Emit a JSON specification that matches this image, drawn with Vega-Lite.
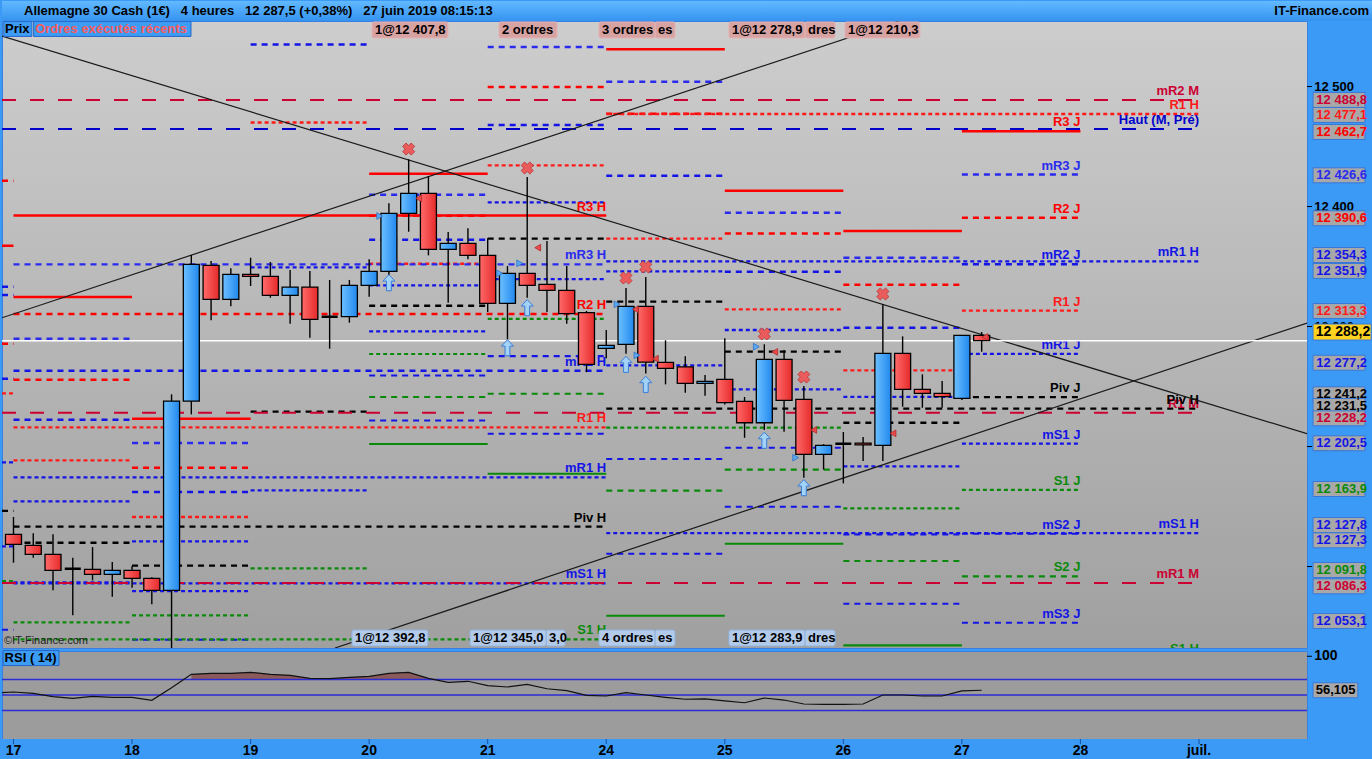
{
"$schema": "https://vega.github.io/schema/vega-lite/v6.json",
"autosize": {"type": "pad"},
"padding": {"left": 0, "top": 0, "right": 0, "bottom": 0},
"background": "#3a9af5",
"spacing": 3,
"bounds": "flush",
"resolve": {"scale": {"x": "independent", "y": "independent"}},
"datasets": {
"candles": [
{"t":0,"o":12126.8,"h":12141.3,"l":12103.2,"c":12118.5},
{"t":0.1667,"o":12117.7,"h":12127.7,"l":12107.3,"c":12110.2},
{"t":0.3333,"o":12110.2,"h":12126.8,"l":12080.2,"c":12096.8},
{"t":0.5,"o":12098.2,"h":12107.3,"l":12059.3,"c":12098.2},
{"t":0.6667,"o":12097.7,"h":12116.2,"l":12088.5,"c":12093.5},
{"t":0.8333,"o":12093.5,"h":12103.8,"l":12074.8,"c":12096.8},
{"t":1,"o":12096.8,"h":12100.4,"l":12082.3,"c":12090.2},
{"t":1.1667,"o":12090.2,"h":12091,"l":12068.5,"c":12080.2},
{"t":1.3333,"o":12080.2,"h":12243.5,"l":12032.1,"c":12237.9},
{"t":1.5,"o":12237.9,"h":12359.6,"l":12226.8,"c":12351.8},
{"t":1.6667,"o":12351,"h":12354.6,"l":12305.2,"c":12322.7},
{"t":1.8333,"o":12322.7,"h":12348.5,"l":12316.8,"c":12343.5},
{"t":2,"o":12343.5,"h":12357.3,"l":12333.8,"c":12341.8},
{"t":2.1667,"o":12341.8,"h":12353.8,"l":12324,"c":12326},
{"t":2.3333,"o":12326,"h":12347.1,"l":12302.3,"c":12332.9},
{"t":2.5,"o":12332.9,"h":12346.3,"l":12290.7,"c":12306},
{"t":2.6667,"o":12308.2,"h":12338.8,"l":12281.5,"c":12308.2},
{"t":2.8333,"o":12308.2,"h":12338.8,"l":12303.2,"c":12334.3},
{"t":3,"o":12334.3,"h":12356,"l":12324.8,"c":12346},
{"t":3.1667,"o":12346,"h":12402.7,"l":12343,"c":12394.3},
{"t":3.3333,"o":12394.3,"h":12439.3,"l":12379,"c":12411},
{"t":3.5,"o":12411,"h":12425.4,"l":12359.3,"c":12364.3},
{"t":3.6667,"o":12364.3,"h":12378.8,"l":12319.8,"c":12369.3},
{"t":3.8333,"o":12369.3,"h":12381.8,"l":12356,"c":12359.3},
{"t":4,"o":12359.3,"h":12373.5,"l":12312.1,"c":12319.3},
{"t":4.1667,"o":12319.3,"h":12350.4,"l":12289.3,"c":12344.3},
{"t":4.3333,"o":12344.3,"h":12424.6,"l":12324,"c":12334.3},
{"t":4.5,"o":12335.2,"h":12371.3,"l":12312.1,"c":12330.2},
{"t":4.6667,"o":12330.2,"h":12350.4,"l":12302.3,"c":12310.7},
{"t":4.8333,"o":12311.5,"h":12313,"l":12262,"c":12268.5},
{"t":5,"o":12281.8,"h":12297.1,"l":12273.5,"c":12284.3},
{"t":5.1667,"o":12285.2,"h":12332.1,"l":12277.3,"c":12316.8},
{"t":5.3333,"o":12316.8,"h":12341.3,"l":12260.8,"c":12270.4},
{"t":5.5,"o":12270.2,"h":12288.5,"l":12251.8,"c":12265.2},
{"t":5.6667,"o":12266.3,"h":12275.2,"l":12244.8,"c":12252.7},
{"t":5.8333,"o":12252.7,"h":12259.6,"l":12242.3,"c":12254.3},
{"t":6,"o":12256,"h":12290.2,"l":12235,"c":12236.5},
{"t":6.1667,"o":12237.7,"h":12241.3,"l":12207.3,"c":12219.8},
{"t":6.3333,"o":12219.8,"h":12285.2,"l":12213.8,"c":12272.7},
{"t":6.5,"o":12272.7,"h":12280.4,"l":12212.3,"c":12238.5},
{"t":6.6667,"o":12239.3,"h":12250.4,"l":12174,"c":12193.5},
{"t":6.8333,"o":12193.5,"h":12202,"l":12180.7,"c":12201},
{"t":7,"o":12202.3,"h":12212.1,"l":12169.3,"c":12202.3},
{"t":7.1667,"o":12202.9,"h":12207.9,"l":12187.9,"c":12201.3},
{"t":7.3333,"o":12201,"h":12318.5,"l":12187.9,"c":12277.7},
{"t":7.5,"o":12277.7,"h":12291.8,"l":12233.2,"c":12247.7},
{"t":7.6667,"o":12247.7,"h":12260.2,"l":12232.3,"c":12244.3},
{"t":7.8333,"o":12244.3,"h":12254.6,"l":12232.3,"c":12241.5},
{"t":8,"o":12240.2,"h":12293,"l":12238.8,"c":12292.7},
{"t":8.1667,"o":12292.7,"h":12295.4,"l":12279,"c":12288.2}
],
"levels": [
{"t0":-0.097,"t1":0,"v":12421.5,"kind":"R2"},
{"t0":-0.097,"t1":0,"v":12367.3,"kind":"R3"},
{"t0":-0.097,"t1":0,"v":12333.2,"kind":"mR2"},
{"t0":-0.097,"t1":0,"v":12326.3,"kind":"mR2"},
{"t0":-0.097,"t1":0,"v":12285.7,"kind":"R2"},
{"t0":-0.097,"t1":0,"v":12256.5,"kind":"mR2"},
{"t0":-0.097,"t1":0,"v":12244.3,"kind":"R1"},
{"t0":-0.097,"t1":0,"v":12186.8,"kind":"mR1"},
{"t0":-0.097,"t1":0,"v":12146.3,"kind":"Piv"},
{"t0":-0.097,"t1":0,"v":12116.8,"kind":"mR1"},
{"t0":-0.097,"t1":0,"v":12087.9,"kind":"S1"},
{"t0":-0.097,"t1":0,"v":12047.3,"kind":"mS3"},
{"t0":0,"t1":1,"v":12324.6,"kind":"R3"},
{"t0":0,"t1":1,"v":12289.8,"kind":"mR3"},
{"t0":0,"t1":1,"v":12255.7,"kind":"R2"},
{"t0":0,"t1":1,"v":12222.3,"kind":"mR2"},
{"t0":0,"t1":1,"v":12188.5,"kind":"R1"},
{"t0":0,"t1":1,"v":12154.3,"kind":"mR1"},
{"t0":0,"t1":1,"v":12119.8,"kind":"Piv"},
{"t0":0,"t1":1,"v":12086.7,"kind":"mS1"},
{"t0":0,"t1":1,"v":12053.5,"kind":"S1"},
{"t0":1,"t1":2,"v":12223.2,"kind":"R3"},
{"t0":1,"t1":2,"v":12202.9,"kind":"mR3"},
{"t0":1,"t1":2,"v":12182.3,"kind":"R2"},
{"t0":1,"t1":2,"v":12162.1,"kind":"mR2"},
{"t0":1,"t1":2,"v":12141.3,"kind":"R1"},
{"t0":1,"t1":2,"v":12121.0,"kind":"mR1"},
{"t0":1,"t1":2,"v":12100.7,"kind":"Piv"},
{"t0":1,"t1":2,"v":12079.6,"kind":"mS1"},
{"t0":1,"t1":2,"v":12059.3,"kind":"S1"},
{"t0":1,"t1":2,"v":12039.0,"kind":"mS2"},
{"t0":2,"t1":3,"v":12535.0,"kind":"mR2"},
{"t0":2,"t1":3,"v":12470.0,"kind":"R1"},
{"t0":2,"t1":3,"v":12349.3,"kind":"mR1"},
{"t0":2,"t1":3,"v":12229.0,"kind":"Piv"},
{"t0":2,"t1":3,"v":12163.5,"kind":"mS1"},
{"t0":2,"t1":3,"v":12098.5,"kind":"S1"},
{"t0":3,"t1":4,"v":12427.3,"kind":"R3"},
{"t0":3,"t1":4,"v":12409.8,"kind":"mR3"},
{"t0":3,"t1":4,"v":12392.3,"kind":"R2"},
{"t0":3,"t1":4,"v":12372.3,"kind":"mR2"},
{"t0":3,"t1":4,"v":12352.3,"kind":"R1"},
{"t0":3,"t1":4,"v":12334.3,"kind":"mR1"},
{"t0":3,"t1":4,"v":12317.3,"kind":"Piv"},
{"t0":3,"t1":4,"v":12296.0,"kind":"mS1"},
{"t0":3,"t1":4,"v":12277.1,"kind":"S1"},
{"t0":3,"t1":4,"v":12259.2,"kind":"mS2"},
{"t0":3,"t1":4,"v":12241.3,"kind":"S2"},
{"t0":3,"t1":4,"v":12221.7,"kind":"mS3"},
{"t0":3,"t1":4,"v":12202.1,"kind":"S3"},
{"t0":4,"t1":5,"v":12532.9,"kind":"mR3"},
{"t0":4,"t1":5,"v":12499.6,"kind":"R2"},
{"t0":4,"t1":5,"v":12467.9,"kind":"mR2"},
{"t0":4,"t1":5,"v":12434.3,"kind":"R1"},
{"t0":4,"t1":5,"v":12403.5,"kind":"mR1"},
{"t0":4,"t1":5,"v":12373.2,"kind":"Piv"},
{"t0":4,"t1":5,"v":12339.6,"kind":"mS1"},
{"t0":4,"t1":5,"v":12306.3,"kind":"S1"},
{"t0":4,"t1":5,"v":12275.4,"kind":"mS2"},
{"t0":4,"t1":5,"v":12244.0,"kind":"S2"},
{"t0":4,"t1":5,"v":12210.7,"kind":"mS3"},
{"t0":4,"t1":5,"v":12177.3,"kind":"S3"},
{"t0":5,"t1":6,"v":12531.0,"kind":"R3"},
{"t0":5,"t1":6,"v":12504.0,"kind":"mR3"},
{"t0":5,"t1":6,"v":12477.3,"kind":"R2"},
{"t0":5,"t1":6,"v":12425.7,"kind":"mR2"},
{"t0":5,"t1":6,"v":12373.2,"kind":"R1"},
{"t0":5,"t1":6,"v":12346.0,"kind":"mR1"},
{"t0":5,"t1":6,"v":12320.7,"kind":"Piv"},
{"t0":5,"t1":6,"v":12267.7,"kind":"mS1"},
{"t0":5,"t1":6,"v":12215.7,"kind":"S1"},
{"t0":5,"t1":6,"v":12189.6,"kind":"mS2"},
{"t0":5,"t1":6,"v":12163.2,"kind":"S2"},
{"t0":5,"t1":6,"v":12110.7,"kind":"mS3"},
{"t0":5,"t1":6,"v":12059.0,"kind":"S3"},
{"t0":6,"t1":7,"v":12413.2,"kind":"R3"},
{"t0":6,"t1":7,"v":12394.8,"kind":"mR3"},
{"t0":6,"t1":7,"v":12377.5,"kind":"R2"},
{"t0":6,"t1":7,"v":12345.7,"kind":"mR2"},
{"t0":6,"t1":7,"v":12314.3,"kind":"R1"},
{"t0":6,"t1":7,"v":12297.1,"kind":"mR1"},
{"t0":6,"t1":7,"v":12279.0,"kind":"Piv"},
{"t0":6,"t1":7,"v":12247.7,"kind":"mS1"},
{"t0":6,"t1":7,"v":12215.7,"kind":"S1"},
{"t0":6,"t1":7,"v":12199.0,"kind":"mS2"},
{"t0":6,"t1":7,"v":12180.7,"kind":"S2"},
{"t0":6,"t1":7,"v":12149.8,"kind":"mS3"},
{"t0":6,"t1":7,"v":12119.0,"kind":"S3"},
{"t0":7,"t1":8,"v":12379.6,"kind":"R3"},
{"t0":7,"t1":8,"v":12357.3,"kind":"mR3"},
{"t0":7,"t1":8,"v":12334.8,"kind":"R2"},
{"t0":7,"t1":8,"v":12299.0,"kind":"mR2"},
{"t0":7,"t1":8,"v":12263.5,"kind":"R1"},
{"t0":7,"t1":8,"v":12241.3,"kind":"mR1"},
{"t0":7,"t1":8,"v":12219.8,"kind":"Piv"},
{"t0":7,"t1":8,"v":12183.5,"kind":"mS1"},
{"t0":7,"t1":8,"v":12148.5,"kind":"S1"},
{"t0":7,"t1":8,"v":12126.8,"kind":"mS2"},
{"t0":7,"t1":8,"v":12104.6,"kind":"S2"},
{"t0":7,"t1":8,"v":12069.0,"kind":"mS3"},
{"t0":7,"t1":8,"v":12034.3,"kind":"S3"},
{"t0":0,"t1":5,"v":12392.5,"kind":"R3","lab":"R3 H"},
{"t0":0,"t1":5,"v":12351.8,"kind":"mR3","lab":"mR3 H"},
{"t0":0,"t1":5,"v":12310.4,"kind":"R2","lab":"R2 H"},
{"t0":0,"t1":5,"v":12263.2,"kind":"mR2","lab":"mR2 H"},
{"t0":0,"t1":5,"v":12216.0,"kind":"R1","lab":"R1 H"},
{"t0":0,"t1":5,"v":12174.3,"kind":"mR1","lab":"mR1 H"},
{"t0":0,"t1":5,"v":12133.2,"kind":"Piv","lab":"Piv H"},
{"t0":0,"t1":5,"v":12086.0,"kind":"mS1","lab":"mS1 H"},
{"t0":0,"t1":5,"v":12039.3,"kind":"S1","lab":"S1 H"},
{"t0":-0.097,"t1":10,"v":12488.8,"kind":"M","lab":"mR2 M"},
{"t0":-0.097,"t1":10,"v":12464.5,"kind":"HM","lab":"Haut (M, Pré)"},
{"t0":-0.097,"t1":10,"v":12228.2,"kind":"M","lab":"R1 M"},
{"t0":-0.097,"t1":10,"v":12086.3,"kind":"M","lab":"mR1 M"},
{"t0":5,"t1":10,"v":12477.1,"kind":"R1","lab":"R1 H"},
{"t0":5,"t1":10,"v":12354.3,"kind":"mR1","lab":"mR1 H"},
{"t0":5,"t1":10,"v":12231.5,"kind":"Piv","lab":"Piv H"},
{"t0":5,"t1":10,"v":12127.8,"kind":"mS1","lab":"mS1 H"},
{"t0":5,"t1":10,"v":12024.1,"kind":"S1","lab":"S1 H"},
{"t0":8,"t1":9,"v":12462.7,"kind":"R3","lab":"R3 J"},
{"t0":8,"t1":9,"v":12426.6,"kind":"mR3","lab":"mR3 J"},
{"t0":8,"t1":9,"v":12390.6,"kind":"R2","lab":"R2 J"},
{"t0":8,"t1":9,"v":12351.9,"kind":"mR2","lab":"mR2 J"},
{"t0":8,"t1":9,"v":12313.3,"kind":"R1","lab":"R1 J"},
{"t0":8,"t1":9,"v":12277.2,"kind":"mR1","lab":"mR1 J"},
{"t0":8,"t1":9,"v":12241.2,"kind":"Piv","lab":"Piv J"},
{"t0":8,"t1":9,"v":12202.5,"kind":"mS1","lab":"mS1 J"},
{"t0":8,"t1":9,"v":12163.9,"kind":"S1","lab":"S1 J"},
{"t0":8,"t1":9,"v":12127.3,"kind":"mS2","lab":"mS2 J"},
{"t0":8,"t1":9,"v":12091.8,"kind":"S2","lab":"S2 J"},
{"t0":8,"t1":9,"v":12053.1,"kind":"mS3","lab":"mS3 J"}
],
"trend": [
{"t0":-0.097,"v0":12542.1,"t1":10.911,"v1":12210.7},
{"t0":-0.097,"v0":12307.3,"t1":7.47,"v1":12554.6},
{"t0":2.712,"v0":12032.1,"t1":10.911,"v1":12302.9}
],
"signals": [
{"t":3.3333,"v":12447.9,"sig":"x"},
{"t":4.3333,"v":12432.1,"sig":"x"},
{"t":5.1667,"v":12340.4,"sig":"x"},
{"t":5.3333,"v":12349.6,"sig":"x"},
{"t":6.3333,"v":12293.8,"sig":"x"},
{"t":6.6667,"v":12257.9,"sig":"x"},
{"t":7.3333,"v":12327.1,"sig":"x"},
{"t":3.1667,"v":12336.5,"sig":"up"},
{"t":4.1667,"v":12282.3,"sig":"up"},
{"t":4.3333,"v":12315.7,"sig":"up"},
{"t":5.1667,"v":12268.5,"sig":"up"},
{"t":5.3333,"v":12251.8,"sig":"up"},
{"t":6.3333,"v":12205.2,"sig":"up"},
{"t":6.6667,"v":12165.7,"sig":"up"},
{"t":3.089,"v":12392.1,"sig":"right"},
{"t":4.101,"v":12344.3,"sig":"right"},
{"t":4.27,"v":12352.7,"sig":"right"},
{"t":5.091,"v":12318.5,"sig":"right"},
{"t":5.259,"v":12276.0,"sig":"right"},
{"t":6.266,"v":12283.2,"sig":"right"},
{"t":6.598,"v":12190.7,"sig":"right"},
{"t":3.418,"v":12406.8,"sig":"left"},
{"t":4.422,"v":12365.7,"sig":"left"},
{"t":5.245,"v":12314.3,"sig":"left"},
{"t":5.414,"v":12273.2,"sig":"left"},
{"t":6.421,"v":12278.8,"sig":"left"},
{"t":6.75,"v":12213.8,"sig":"left"},
{"t":7.419,"v":12211.0,"sig":"left"},
{"t":8.195,"v":12291.3,"sig":"left"}
],
"orders": [
{"t0":3.024,"t1":3.665,"at":12547.1,"pos":"top","text":"1@12 407,8"},
{"t0":4.095,"t1":4.585,"at":12547.1,"pos":"top","text":"2 ordres"},
{"t0":5.411,"t1":5.58,"at":12547.1,"pos":"top","text":"es"},
{"t0":4.939,"t1":5.411,"at":12547.1,"pos":"top","text":"3 ordres"},
{"t0":6.676,"t1":6.93,"at":12547.1,"pos":"top","text":"dres"},
{"t0":6.035,"t1":6.676,"at":12547.1,"pos":"top","text":"1@12 278,9"},
{"t0":7.014,"t1":7.646,"at":12547.1,"pos":"top","text":"1@12 210,3"},
{"t0":2.855,"t1":3.496,"at":12040.4,"pos":"bottom","text":"1@12 392,8"},
{"t0":4.492,"t1":4.652,"at":12040.4,"pos":"bottom","text":"3,0"},
{"t0":3.851,"t1":4.492,"at":12040.4,"pos":"bottom","text":"1@12 345,0"},
{"t0":5.411,"t1":5.58,"at":12040.4,"pos":"bottom","text":"es"},
{"t0":4.939,"t1":5.411,"at":12040.4,"pos":"bottom","text":"4 ordres"},
{"t0":6.676,"t1":6.93,"at":12040.4,"pos":"bottom","text":"dres"},
{"t0":6.035,"t1":6.676,"at":12040.4,"pos":"bottom","text":"1@12 283,9"}
],
"boxes": [
{"v":12488.8,"lv":12488.8,"kind":"M","a":10.962,"b":11.4,"tx":10.99},
{"v":12477.1,"lv":12476.3,"kind":"R1","a":10.962,"b":11.4,"tx":10.99},
{"v":12462.7,"lv":12462.1,"kind":"R3","a":10.962,"b":11.4,"tx":10.99},
{"v":12426.6,"lv":12426.0,"kind":"mR3","a":10.962,"b":11.4,"tx":10.99},
{"v":12390.6,"lv":12390.2,"kind":"R2","a":10.962,"b":11.4,"tx":10.99},
{"v":12354.3,"lv":12359.6,"kind":"mR1","a":10.962,"b":11.4,"tx":10.99},
{"v":12351.9,"lv":12346.3,"kind":"mR2","a":10.962,"b":11.4,"tx":10.99},
{"v":12313.3,"lv":12312.9,"kind":"R1","a":10.962,"b":11.4,"tx":10.99},
{"v":12277.2,"lv":12269.8,"kind":"mR1","a":10.962,"b":11.4,"tx":10.99},
{"v":12241.2,"lv":12243.5,"kind":"Piv","a":10.962,"b":11.4,"tx":10.99},
{"v":12231.5,"lv":12233.8,"kind":"Piv","a":10.962,"b":11.4,"tx":10.99},
{"v":12228.2,"lv":12223.5,"kind":"M","a":10.962,"b":11.4,"tx":10.99},
{"v":12202.5,"lv":12202.7,"kind":"mS1","a":10.962,"b":11.4,"tx":10.99},
{"v":12163.9,"lv":12164.6,"kind":"S1","a":10.962,"b":11.4,"tx":10.99},
{"v":12127.8,"lv":12134.6,"kind":"mS1","a":10.962,"b":11.4,"tx":10.99},
{"v":12127.3,"lv":12121.8,"kind":"mS2","a":10.962,"b":11.4,"tx":10.99},
{"v":12091.8,"lv":12097.1,"kind":"S2","a":10.962,"b":11.4,"tx":10.99},
{"v":12086.3,"lv":12083.5,"kind":"M","a":10.962,"b":11.4,"tx":10.99},
{"v":12053.1,"lv":12054.6,"kind":"mS3","a":10.962,"b":11.4,"tx":10.99}
],
"yticks": [
{"tv":12100,"a":10.911,"b":10.953,"tx":10.972},{"tv":12200,"a":10.911,"b":10.953,"tx":10.972},{"tv":12300,"a":10.911,"b":10.953,"tx":10.972},
{"tv":12400,"a":10.911,"b":10.953,"tx":10.972},{"tv":12500,"a":10.911,"b":10.953,"tx":10.972}
],
"xticks": [
{"tv":0,"lbl":"17","y0":-6.8,"y1":-13.3,"ly":-22.2},{"tv":1,"lbl":"18","y0":-6.8,"y1":-13.3,"ly":-22.2},
{"tv":2,"lbl":"19","y0":-6.8,"y1":-13.3,"ly":-22.2},{"tv":3,"lbl":"20","y0":-6.8,"y1":-13.3,"ly":-22.2},
{"tv":4,"lbl":"21","y0":-6.8,"y1":-13.3,"ly":-22.2},{"tv":5,"lbl":"24","y0":-6.8,"y1":-13.3,"ly":-22.2},
{"tv":6,"lbl":"25","y0":-6.8,"y1":-13.3,"ly":-22.2},{"tv":7,"lbl":"26","y0":-6.8,"y1":-13.3,"ly":-22.2},
{"tv":8,"lbl":"27","y0":-6.8,"y1":-13.3,"ly":-22.2},{"tv":9,"lbl":"28","y0":-6.8,"y1":-13.3,"ly":-22.2},
{"tv":10,"lbl":"juil.","y0":-6.8,"y1":-13.3,"ly":-22.2}
],
"rsi": [
{"t":-0.097,"r":53.0},{"t":0,"r":53.9},{"t":0.1667,"r":52.2},{"t":0.3333,"r":47.8},{"t":0.5,"r":45.7},{"t":0.6667,"r":48.3},{"t":0.8333,"r":47.0},
{"t":1,"r":47.0},{"t":1.1667,"r":43.2},{"t":1.3333,"r":59.5},{"t":1.5,"r":76.7},{"t":1.6667,"r":78.0},{"t":1.8333,"r":78.0},
{"t":2,"r":79.3},{"t":2.1667,"r":76.7},{"t":2.3333,"r":75.4},{"t":2.5,"r":71.5},{"t":2.6667,"r":71.1},{"t":2.8333,"r":72.8},
{"t":3,"r":74.1},{"t":3.1667,"r":78.0},{"t":3.3333,"r":79.3},{"t":3.5,"r":71.5},{"t":3.6667,"r":66.4},{"t":3.8333,"r":67.7},
{"t":4,"r":62.0},{"t":4.1667,"r":60.3},{"t":4.3333,"r":63.8},{"t":4.5,"r":58.1},{"t":4.6667,"r":55.6},{"t":4.8333,"r":49.6},
{"t":5,"r":48.7},{"t":5.1667,"r":53.0},{"t":5.3333,"r":50.0},{"t":5.5,"r":47.0},{"t":5.6667,"r":44.5},{"t":5.8333,"r":45.0},
{"t":6,"r":42.5},{"t":6.1667,"r":40.0},{"t":6.3333,"r":46.1},{"t":6.5,"r":43.5},{"t":6.6667,"r":38.4},{"t":6.8333,"r":37.8},
{"t":7,"r":37.8},{"t":7.1667,"r":38.4},{"t":7.3333,"r":50.0},{"t":7.5,"r":50.0},{"t":7.6667,"r":48.7},{"t":7.8333,"r":48.7},
{"t":8,"r":55.2},{"t":8.1667,"r":56.105}
]
},
"vconcat": [
{
"width": 1305, "height": 627,
"view": {"fill": {"gradient": "linear", "x1": 0, "y1": 0, "x2": 0, "y2": 1, "stops": [{"offset": 0, "color": "#cdcdcd"}, {"offset": 1, "color": "#a0a0a0"}]}, "stroke": "#3a80e0", "strokeWidth": 1},
"layer": [
{"data": {"name": "levels"}, "mark": {"type": "rule", "clip": true},
 "encoding": {
  "x": {"field": "t0", "type": "quantitative", "scale": {"domain": [-0.097, 10.911], "nice": false, "zero": false, "padding": 0}, "axis": null},
  "x2": {"field": "t1"},
  "y": {"field": "v", "type": "quantitative", "scale": {"domain": [12032.1, 12554.6], "nice": false, "zero": false, "padding": 0}, "axis": null},
  "color": {"field": "kind", "type": "nominal", "legend": null, "scale": {"domain": ["R3","mR3","R2","mR2","R1","mR1","Piv","mS1","S1","mS2","S2","mS3","S3","M","HM"], "range": ["#ff0000","#2a2aee","#ff0000","#1414e6","#ff1a1a","#1414e6","#000000","#1414e6","#0a8a0a","#1414e6","#0a8a0a","#1414e6","#0a8a0a","#cc0033","#0000cc"]}},
  "strokeDash": {"field": "kind", "type": "nominal", "legend": null, "scale": {"domain": ["R3","mR3","R2","mR2","R1","mR1","Piv","mS1","S1","mS2","S2","mS3","S3","M","HM"], "range": [[1,0],[6,5],[6,5],[6,5],[4,3],[4,3],[6,5],[4,3],[4,3],[6,5],[6,5],[6,5],[1,0],[14,14],[14,14]]}},
  "strokeWidth": {"field": "kind", "type": "ordinal", "legend": null, "scale": {"domain": ["R3","mR3","R2","mR2","R1","mR1","Piv","mS1","S1","mS2","S2","mS3","S3","M","HM"], "range": [2.5,2,2,2,1,1,2,1,1,2,2,2,2.5,4,4]}}
 }},
{"data": {"name": "levels"}, "transform": [{"filter": "datum.lab"}],
 "mark": {"type": "text", "align": "right", "baseline": "bottom", "dy": -2, "fontSize": 13, "fontWeight": "bold", "clip": true},
 "encoding": {
  "x": {"field": "t1", "type": "quantitative", "scale": {"domain": [-0.097, 10.911], "nice": false, "zero": false, "padding": 0}, "axis": null},
  "y": {"field": "v", "type": "quantitative", "scale": {"domain": [12032.1, 12554.6], "nice": false, "zero": false, "padding": 0}, "axis": null},
  "text": {"field": "lab"},
  "color": {"field": "kind", "type": "nominal", "legend": null}
 }},
{"data": {"name": "trend"}, "mark": {"type": "rule", "color": "#1a1a1a", "strokeWidth": 1.2, "clip": true},
 "encoding": {
  "x": {"field": "t0", "type": "quantitative", "scale": {"domain": [-0.097, 10.911], "nice": false, "zero": false, "padding": 0}, "axis": null},
  "x2": {"field": "t1"},
  "y": {"field": "v0", "type": "quantitative", "scale": {"domain": [12032.1, 12554.6], "nice": false, "zero": false, "padding": 0}, "axis": null},
  "y2": {"field": "v1"}
 }},
{"data": {"values": [{"p": 12288.2}]}, "mark": {"type": "rule", "color": "#ffffff", "strokeWidth": 1.5},
 "encoding": {"y": {"field": "p", "type": "quantitative", "scale": {"domain": [12032.1, 12554.6], "nice": false, "zero": false, "padding": 0}, "axis": null}}},
{"data": {"name": "candles"}, "mark": {"type": "rule", "color": "#000000", "strokeWidth": 1.4, "clip": true},
 "encoding": {
  "x": {"field": "t", "type": "quantitative", "scale": {"domain": [-0.097, 10.911], "nice": false, "zero": false, "padding": 0}, "axis": null},
  "y": {"field": "l", "type": "quantitative", "scale": {"domain": [12032.1, 12554.6], "nice": false, "zero": false, "padding": 0}, "axis": null},
  "y2": {"field": "h"}
 }},
{"data": {"name": "candles"}, "transform": [{"filter": "datum.c > datum.o + 0.5"}],
 "mark": {"type": "bar", "width": 16, "fill": {"gradient": "linear", "x1": 0, "y1": 0, "x2": 1, "y2": 0, "stops": [{"offset": 0, "color": "#6cc0ff"}, {"offset": 1, "color": "#2288ee"}]}, "stroke": "#000000", "strokeWidth": 1.3, "clip": true},
 "encoding": {
  "x": {"field": "t", "type": "quantitative", "scale": {"domain": [-0.097, 10.911], "nice": false, "zero": false, "padding": 0}, "axis": null},
  "y": {"field": "o", "type": "quantitative", "scale": {"domain": [12032.1, 12554.6], "nice": false, "zero": false, "padding": 0}, "axis": null},
  "y2": {"field": "c"}
 }},
{"data": {"name": "candles"}, "transform": [{"filter": "datum.c < datum.o - 0.5"}],
 "mark": {"type": "bar", "width": 16, "fill": {"gradient": "linear", "x1": 0, "y1": 0, "x2": 1, "y2": 0, "stops": [{"offset": 0, "color": "#ff6a6a"}, {"offset": 1, "color": "#e62a2a"}]}, "stroke": "#000000", "strokeWidth": 1.3, "clip": true},
 "encoding": {
  "x": {"field": "t", "type": "quantitative", "scale": {"domain": [-0.097, 10.911], "nice": false, "zero": false, "padding": 0}, "axis": null},
  "y": {"field": "o", "type": "quantitative", "scale": {"domain": [12032.1, 12554.6], "nice": false, "zero": false, "padding": 0}, "axis": null},
  "y2": {"field": "c"}
 }},
{"data": {"name": "candles"}, "transform": [{"filter": "abs(datum.c - datum.o) <= 0.5"}],
 "mark": {"type": "bar", "width": 16, "fill": "#000000", "stroke": "#000000", "strokeWidth": 2.5, "clip": true},
 "encoding": {
  "x": {"field": "t", "type": "quantitative", "scale": {"domain": [-0.097, 10.911], "nice": false, "zero": false, "padding": 0}, "axis": null},
  "y": {"field": "o", "type": "quantitative", "scale": {"domain": [12032.1, 12554.6], "nice": false, "zero": false, "padding": 0}, "axis": null},
  "y2": {"field": "c"}
 }},
{"data": {"name": "signals"}, "transform": [{"filter": "datum.sig == 'x'"}],
 "mark": {"type": "point", "shape": "cross", "angle": 45, "filled": true, "size": 150, "fill": "#ea5b5b", "stroke": "#b83a3a", "strokeWidth": 0.8, "opacity": 1},
 "encoding": {"x": {"field": "t", "type": "quantitative", "scale": {"domain": [-0.097, 10.911], "nice": false, "zero": false, "padding": 0}, "axis": null}, "y": {"field": "v", "type": "quantitative", "scale": {"domain": [12032.1, 12554.6], "nice": false, "zero": false, "padding": 0}, "axis": null}}},
{"data": {"name": "signals"}, "transform": [{"filter": "datum.sig == 'up'"}],
 "mark": {"type": "point", "shape": "M0,-1L0.75,-0.2L0.3,-0.2L0.3,1L-0.3,1L-0.3,-0.2L-0.75,-0.2Z", "filled": true, "size": 260, "fill": "#a3d2f7", "stroke": "#3b7dd8", "strokeWidth": 1, "opacity": 1},
 "encoding": {"x": {"field": "t", "type": "quantitative", "scale": {"domain": [-0.097, 10.911], "nice": false, "zero": false, "padding": 0}, "axis": null}, "y": {"field": "v", "type": "quantitative", "scale": {"domain": [12032.1, 12554.6], "nice": false, "zero": false, "padding": 0}, "axis": null}}},
{"data": {"name": "signals"}, "transform": [{"filter": "datum.sig == 'right'"}],
 "mark": {"type": "point", "shape": "triangle-right", "filled": true, "size": 45, "fill": "#5aaaf2", "stroke": "#2f6fc6", "strokeWidth": 0.8, "opacity": 1},
 "encoding": {"x": {"field": "t", "type": "quantitative", "scale": {"domain": [-0.097, 10.911], "nice": false, "zero": false, "padding": 0}, "axis": null}, "y": {"field": "v", "type": "quantitative", "scale": {"domain": [12032.1, 12554.6], "nice": false, "zero": false, "padding": 0}, "axis": null}}},
{"data": {"name": "signals"}, "transform": [{"filter": "datum.sig == 'left'"}],
 "mark": {"type": "point", "shape": "triangle-left", "filled": true, "size": 45, "fill": "#ec4a4a", "stroke": "#b02a2a", "strokeWidth": 0.8, "opacity": 1},
 "encoding": {"x": {"field": "t", "type": "quantitative", "scale": {"domain": [-0.097, 10.911], "nice": false, "zero": false, "padding": 0}, "axis": null}, "y": {"field": "v", "type": "quantitative", "scale": {"domain": [12032.1, 12554.6], "nice": false, "zero": false, "padding": 0}, "axis": null}}},
{"data": {"name": "orders"}, "transform": [{"filter": "datum.pos == 'top'"}],
 "mark": {"type": "bar", "orient": "horizontal", "size": 16, "fill": "#d7a2a2", "stroke": "#e6b3b3", "strokeWidth": 1, "cornerRadius": 2},
 "encoding": {"x": {"field": "t0", "type": "quantitative", "scale": {"domain": [-0.097, 10.911], "nice": false, "zero": false, "padding": 0}, "axis": null}, "x2": {"field": "t1"}, "y": {"field": "at", "type": "quantitative", "scale": {"domain": [12032.1, 12554.6], "nice": false, "zero": false, "padding": 0}, "axis": null}}},
{"data": {"name": "orders"}, "transform": [{"filter": "datum.pos == 'bottom'"}],
 "mark": {"type": "bar", "orient": "horizontal", "size": 16, "fill": "#b3cbe8", "stroke": "#8fb3e0", "strokeWidth": 1, "cornerRadius": 2},
 "encoding": {"x": {"field": "t0", "type": "quantitative", "scale": {"domain": [-0.097, 10.911], "nice": false, "zero": false, "padding": 0}, "axis": null}, "x2": {"field": "t1"}, "y": {"field": "at", "type": "quantitative", "scale": {"domain": [12032.1, 12554.6], "nice": false, "zero": false, "padding": 0}, "axis": null}}},
{"data": {"name": "orders"},
 "mark": {"type": "text", "align": "left", "baseline": "middle", "dx": 3, "fontSize": 13, "fontWeight": "bold", "color": "#000000"},
 "encoding": {"x": {"field": "t0", "type": "quantitative", "scale": {"domain": [-0.097, 10.911], "nice": false, "zero": false, "padding": 0}, "axis": null}, "y": {"field": "at", "type": "quantitative", "scale": {"domain": [12032.1, 12554.6], "nice": false, "zero": false, "padding": 0}, "axis": null}, "text": {"field": "text"}}},
{"data": {"values": [{"a": -0.082, "b": 0.155, "at": 12548.0}, {"a": 0.17, "b": 1.497, "at": 12548.0}]},
 "mark": {"type": "bar", "orient": "horizontal", "size": 15, "fill": "#3d9df5", "stroke": "#2566c9", "strokeWidth": 1},
 "encoding": {"x": {"field": "a", "type": "quantitative", "scale": {"domain": [-0.097, 10.911], "nice": false, "zero": false, "padding": 0}, "axis": null}, "x2": {"field": "b"}, "y": {"field": "at", "type": "quantitative", "scale": {"domain": [12032.1, 12554.6], "nice": false, "zero": false, "padding": 0}, "axis": null}}},
{"data": {"values": [{"a": -0.072, "at": 12548.0, "s": "Prix"}]},
 "mark": {"type": "text", "align": "left", "baseline": "middle", "fontSize": 13, "fontWeight": "bold", "color": "#000000"},
 "encoding": {"x": {"field": "a", "type": "quantitative", "scale": {"domain": [-0.097, 10.911], "nice": false, "zero": false, "padding": 0}, "axis": null}, "y": {"field": "at", "type": "quantitative", "scale": {"domain": [12032.1, 12554.6], "nice": false, "zero": false, "padding": 0}, "axis": null}, "text": {"field": "s"}}},
{"data": {"values": [{"a": 0.183, "at": 12548.0, "s": "Ordres exécutés récents"}]},
 "mark": {"type": "text", "align": "left", "baseline": "middle", "fontSize": 13, "fontWeight": "bold", "color": "#ff5a5a"},
 "encoding": {"x": {"field": "a", "type": "quantitative", "scale": {"domain": [-0.097, 10.911], "nice": false, "zero": false, "padding": 0}, "axis": null}, "y": {"field": "at", "type": "quantitative", "scale": {"domain": [12032.1, 12554.6], "nice": false, "zero": false, "padding": 0}, "axis": null}, "text": {"field": "s"}}},
{"data": {"values": [{"a": -0.08, "at": 12037.9, "s": "©IT-Finance.com"}]},
 "mark": {"type": "text", "align": "left", "baseline": "middle", "fontSize": 11, "color": "#222222"},
 "encoding": {"x": {"field": "a", "type": "quantitative", "scale": {"domain": [-0.097, 10.911], "nice": false, "zero": false, "padding": 0}, "axis": null}, "y": {"field": "at", "type": "quantitative", "scale": {"domain": [12032.1, 12554.6], "nice": false, "zero": false, "padding": 0}, "axis": null}, "text": {"field": "s"}}},
{"data": {"values": [{"a": -0.097, "b": 11.46, "y0": 12554.6, "y1": 12571.27}]},
 "mark": {"type": "rect", "clip": false, "fill": {"gradient": "linear", "x1": 0, "y1": 0, "x2": 0, "y2": 1, "stops": [{"offset": 0, "color": "#62b9ff"}, {"offset": 1, "color": "#3593f0"}]}},
 "encoding": {"x": {"field": "a", "type": "quantitative", "scale": {"domain": [-0.097, 10.911], "nice": false, "zero": false, "padding": 0}, "axis": null}, "x2": {"field": "b"}, "y": {"field": "y0", "type": "quantitative", "scale": {"domain": [12032.1, 12554.6], "nice": false, "zero": false, "padding": 0}, "axis": null}, "y2": {"field": "y1"}}},
{"data": {"values": [{"a": 0.0886, "at": 12562.9, "s": "Allemagne 30 Cash (1€)\u00a0\u00a0\u00a04 heures\u00a0\u00a0\u00a012 287,5 (+0,38%)\u00a0\u00a0\u00a027 juin 2019 08:15:13"}]},
 "mark": {"type": "text", "align": "left", "baseline": "middle", "fontSize": 13, "fontWeight": "bold", "color": "#000000", "clip": false},
 "encoding": {"x": {"field": "a", "type": "quantitative", "scale": {"domain": [-0.097, 10.911], "nice": false, "zero": false, "padding": 0}, "axis": null}, "y": {"field": "at", "type": "quantitative", "scale": {"domain": [12032.1, 12554.6], "nice": false, "zero": false, "padding": 0}, "axis": null}, "text": {"field": "s"}}},
{"data": {"values": [{"a": 11.434, "at": 12562.9, "s": "IT-Finance.com"}]},
 "mark": {"type": "text", "align": "right", "baseline": "middle", "fontSize": 13, "fontWeight": "bold", "color": "#000000", "clip": false},
 "encoding": {"x": {"field": "a", "type": "quantitative", "scale": {"domain": [-0.097, 10.911], "nice": false, "zero": false, "padding": 0}, "axis": null}, "y": {"field": "at", "type": "quantitative", "scale": {"domain": [12032.1, 12554.6], "nice": false, "zero": false, "padding": 0}, "axis": null}, "text": {"field": "s"}}},
{"data": {"name": "yticks"},
 "mark": {"type": "rule", "color": "#000000", "strokeWidth": 1, "clip": false},
 "encoding": {"x": {"field": "a", "type": "quantitative", "scale": {"domain": [-0.097, 10.911], "nice": false, "zero": false, "padding": 0}, "axis": null}, "x2": {"field": "b"}, "y": {"field": "tv", "type": "quantitative", "scale": {"domain": [12032.1, 12554.6], "nice": false, "zero": false, "padding": 0}, "axis": null}}},
{"data": {"name": "yticks"},
 "mark": {"type": "text", "align": "left", "baseline": "middle", "fontSize": 13, "fontWeight": "bold", "color": "#000000", "clip": false},
 "encoding": {"x": {"field": "tx", "type": "quantitative", "scale": {"domain": [-0.097, 10.911], "nice": false, "zero": false, "padding": 0}, "axis": null}, "y": {"field": "tv", "type": "quantitative", "scale": {"domain": [12032.1, 12554.6], "nice": false, "zero": false, "padding": 0}, "axis": null}, "text": {"field": "tv", "type": "quantitative", "format": ",d"}}},
{"data": {"name": "boxes"},
 "mark": {"type": "bar", "orient": "horizontal", "size": 15, "fill": "#a8a8a8", "stroke": "#3a78d8", "strokeWidth": 1, "clip": false},
 "encoding": {"x": {"field": "a", "type": "quantitative", "scale": {"domain": [-0.097, 10.911], "nice": false, "zero": false, "padding": 0}, "axis": null}, "x2": {"field": "b"}, "y": {"field": "lv", "type": "quantitative", "scale": {"domain": [12032.1, 12554.6], "nice": false, "zero": false, "padding": 0}, "axis": null}}},
{"data": {"name": "boxes"},
 "mark": {"type": "text", "align": "left", "baseline": "middle", "fontSize": 13, "fontWeight": "bold", "clip": false},
 "encoding": {"x": {"field": "tx", "type": "quantitative", "scale": {"domain": [-0.097, 10.911], "nice": false, "zero": false, "padding": 0}, "axis": null}, "y": {"field": "lv", "type": "quantitative", "scale": {"domain": [12032.1, 12554.6], "nice": false, "zero": false, "padding": 0}, "axis": null}, "text": {"field": "v", "type": "quantitative", "format": ",.1f"}, "color": {"field": "kind", "type": "nominal", "legend": null}}},
{"data": {"values": [{"v": 12288.2, "lv": 12295.4, "a": 10.962, "b": 11.452, "tx": 10.985}]},
 "mark": {"type": "bar", "orient": "horizontal", "size": 16, "fill": "#ffd21f", "stroke": "#3a78d8", "strokeWidth": 1, "clip": false},
 "encoding": {"x": {"field": "a", "type": "quantitative", "scale": {"domain": [-0.097, 10.911], "nice": false, "zero": false, "padding": 0}, "axis": null}, "x2": {"field": "b"}, "y": {"field": "lv", "type": "quantitative", "scale": {"domain": [12032.1, 12554.6], "nice": false, "zero": false, "padding": 0}, "axis": null}}},
{"data": {"values": [{"v": 12288.2, "lv": 12295.4, "a": 10.962, "b": 11.452, "tx": 10.985}]},
 "mark": {"type": "text", "align": "left", "baseline": "middle", "fontSize": 14, "fontWeight": "bold", "color": "#000000", "clip": false},
 "encoding": {"x": {"field": "tx", "type": "quantitative", "scale": {"domain": [-0.097, 10.911], "nice": false, "zero": false, "padding": 0}, "axis": null}, "y": {"field": "lv", "type": "quantitative", "scale": {"domain": [12032.1, 12554.6], "nice": false, "zero": false, "padding": 0}, "axis": null}, "text": {"field": "v", "type": "quantitative", "format": ",.1f"}}}
]
},
{
"width": 1305, "height": 88,
"view": {"fill": "#9c9c9c", "stroke": "#3a80e0", "strokeWidth": 1},
"layer": [
{"data": {"name": "rsi"}, "transform": [{"filter": "datum.r >= 70"}],
 "mark": {"type": "area", "color": "#8b5a5a", "clip": true},
 "encoding": {
  "x": {"field": "t", "type": "quantitative", "scale": {"domain": [-0.097, 10.911], "nice": false, "zero": false, "padding": 0}, "axis": null},
  "y": {"field": "r", "type": "quantitative", "scale": {"domain": [-6.8, 106.8], "nice": false, "zero": false, "padding": 0}, "axis": null},
  "y2": {"datum": 70}
 }},
{"data": {"values": [{"lv": 70}, {"lv": 50}, {"lv": 30}]},
 "mark": {"type": "rule", "color": "#2d2dd6", "strokeWidth": 1.3},
 "encoding": {"y": {"field": "lv", "type": "quantitative", "scale": {"domain": [-6.8, 106.8], "nice": false, "zero": false, "padding": 0}, "axis": null}}},
{"data": {"name": "rsi"},
 "mark": {"type": "line", "color": "#111111", "strokeWidth": 1.2, "clip": true},
 "encoding": {"x": {"field": "t", "type": "quantitative", "scale": {"domain": [-0.097, 10.911], "nice": false, "zero": false, "padding": 0}, "axis": null}, "y": {"field": "r", "type": "quantitative", "scale": {"domain": [-6.8, 106.8], "nice": false, "zero": false, "padding": 0}, "axis": null}}},
{"data": {"values": [{"a": -0.097, "b": 11.46, "y0": -6.8, "y1": -33.85}]},
 "mark": {"type": "rect", "clip": false, "fill": "#3a9af5"},
 "encoding": {"x": {"field": "a", "type": "quantitative", "scale": {"domain": [-0.097, 10.911], "nice": false, "zero": false, "padding": 0}, "axis": null}, "x2": {"field": "b"}, "y": {"field": "y0", "type": "quantitative", "scale": {"domain": [-6.8, 106.8], "nice": false, "zero": false, "padding": 0}, "axis": null}, "y2": {"field": "y1"}}},
{"data": {"name": "xticks"},
 "mark": {"type": "rule", "color": "#1a4fa0", "strokeWidth": 1, "clip": false},
 "encoding": {"x": {"field": "tv", "type": "quantitative", "scale": {"domain": [-0.097, 10.911], "nice": false, "zero": false, "padding": 0}, "axis": null}, "y": {"field": "y0", "type": "quantitative", "scale": {"domain": [-6.8, 106.8], "nice": false, "zero": false, "padding": 0}, "axis": null}, "y2": {"field": "y1"}}},
{"data": {"name": "xticks"},
 "mark": {"type": "text", "align": "center", "baseline": "middle", "fontSize": 14, "fontWeight": "bold", "color": "#000000", "clip": false},
 "encoding": {"x": {"field": "tv", "type": "quantitative", "scale": {"domain": [-0.097, 10.911], "nice": false, "zero": false, "padding": 0}, "axis": null}, "y": {"field": "ly", "type": "quantitative", "scale": {"domain": [-6.8, 106.8], "nice": false, "zero": false, "padding": 0}, "axis": null}, "text": {"field": "lbl"}}},
{"data": {"values": [{"tv": 100, "a": 10.911, "b": 10.953, "tx": 10.972}]},
 "mark": {"type": "rule", "color": "#000000", "strokeWidth": 1, "clip": false},
 "encoding": {"x": {"field": "a", "type": "quantitative", "scale": {"domain": [-0.097, 10.911], "nice": false, "zero": false, "padding": 0}, "axis": null}, "x2": {"field": "b"}, "y": {"field": "tv", "type": "quantitative", "scale": {"domain": [-6.8, 106.8], "nice": false, "zero": false, "padding": 0}, "axis": null}}},
{"data": {"values": [{"tv": 100, "a": 10.911, "b": 10.953, "tx": 10.972}]},
 "mark": {"type": "text", "align": "left", "baseline": "middle", "fontSize": 14, "fontWeight": "bold", "color": "#000000", "clip": false},
 "encoding": {"x": {"field": "tx", "type": "quantitative", "scale": {"domain": [-0.097, 10.911], "nice": false, "zero": false, "padding": 0}, "axis": null}, "y": {"field": "tv", "type": "quantitative", "scale": {"domain": [-6.8, 106.8], "nice": false, "zero": false, "padding": 0}, "axis": null}, "text": {"field": "tv", "type": "quantitative", "format": "d"}}},
{"data": {"values": [{"r": 56.105, "a": 10.962, "b": 11.34, "tx": 10.985}]},
 "mark": {"type": "bar", "orient": "horizontal", "size": 15, "fill": "#a8a8a8", "stroke": "#3a78d8", "strokeWidth": 1, "clip": false},
 "encoding": {"x": {"field": "a", "type": "quantitative", "scale": {"domain": [-0.097, 10.911], "nice": false, "zero": false, "padding": 0}, "axis": null}, "x2": {"field": "b"}, "y": {"field": "r", "type": "quantitative", "scale": {"domain": [-6.8, 106.8], "nice": false, "zero": false, "padding": 0}, "axis": null}}},
{"data": {"values": [{"r": 56.105, "a": 10.962, "b": 11.34, "tx": 10.985}]},
 "mark": {"type": "text", "align": "left", "baseline": "middle", "fontSize": 13, "fontWeight": "bold", "color": "#000000", "clip": false},
 "encoding": {"x": {"field": "tx", "type": "quantitative", "scale": {"domain": [-0.097, 10.911], "nice": false, "zero": false, "padding": 0}, "axis": null}, "y": {"field": "r", "type": "quantitative", "scale": {"domain": [-6.8, 106.8], "nice": false, "zero": false, "padding": 0}, "axis": null}, "text": {"field": "r", "type": "quantitative", "format": ".3f"}}},
{"data": {"values": [{"a": -0.088, "b": 0.384, "at": 97.7}]},
 "mark": {"type": "bar", "orient": "horizontal", "size": 15, "fill": "#3d9df5", "stroke": "#2566c9", "strokeWidth": 1},
 "encoding": {"x": {"field": "a", "type": "quantitative", "scale": {"domain": [-0.097, 10.911], "nice": false, "zero": false, "padding": 0}, "axis": null}, "x2": {"field": "b"}, "y": {"field": "at", "type": "quantitative", "scale": {"domain": [-6.8, 106.8], "nice": false, "zero": false, "padding": 0}, "axis": null}}},
{"data": {"values": [{"a": -0.075, "at": 97.7, "s": "RSI ( 14)"}]},
 "mark": {"type": "text", "align": "left", "baseline": "middle", "fontSize": 13, "fontWeight": "bold", "color": "#000000"},
 "encoding": {"x": {"field": "a", "type": "quantitative", "scale": {"domain": [-0.097, 10.911], "nice": false, "zero": false, "padding": 0}, "axis": null}, "y": {"field": "at", "type": "quantitative", "scale": {"domain": [-6.8, 106.8], "nice": false, "zero": false, "padding": 0}, "axis": null}, "text": {"field": "s"}}}
]
}
],
"config": {
 "font": "Liberation Sans",
 "scale": {"continuousPadding": 0},
 "locale": {"number": {"decimal": ",", "thousands": " ", "grouping": [3], "currency": ["", " €"]}}
}
}
